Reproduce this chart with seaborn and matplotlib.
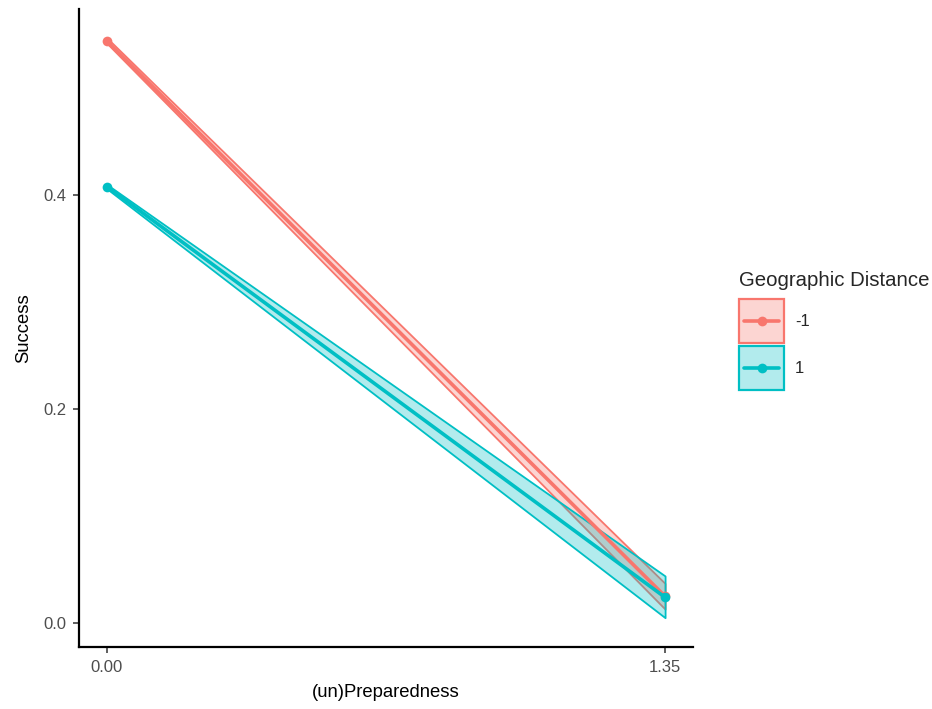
import matplotlib
matplotlib.use("Agg")
import matplotlib.pyplot as plt
import seaborn as sns
import pandas as pd
from matplotlib.patches import Rectangle
from matplotlib.lines import Line2D
from matplotlib.legend_handler import HandlerBase

# ---- data ----
x_vals = [0.0, 1.35]
groups = ["-1", "1"]
pred_neg = [0.544, 0.025]
lo_neg = [0.542, 0.013]
hi_neg = [0.547, 0.037]
pred_pos = [0.408, 0.024]
lo_pos = [0.406, 0.005]
hi_pos = [0.410, 0.044]
x_ticks = [0.0, 1.35]
x_ticklabels = ["0.00", "1.35"]
y_ticks = [0.0, 0.2, 0.4]
y_ticklabels = ["0.0", "0.2", "0.4"]
colors = ["#F8766D", "#00BFC4"]

sns.set_style("ticks")
plt.rcParams["font.family"] = ["Liberation Sans", "DejaVu Sans"]

fig = plt.figure(figsize=(9.32, 7.09), dpi=100)
ax = fig.add_axes([79 / 932, 1 - 647 / 709, (693 - 79) / 932, (647 - 9) / 709])

series = [(groups[0], pred_neg, lo_neg, hi_neg, colors[0]),
          (groups[1], pred_pos, lo_pos, hi_pos, colors[1])]
for g, pred, lo, hi, c in series:
    ax.fill_between(x_vals, lo, hi, facecolor=matplotlib.colors.to_rgba(c, 0.3),
                    edgecolor=c, linewidth=1.3)
    df = pd.DataFrame({"x": x_vals, "y": pred, "g": [g] * len(x_vals)})
    sns.lineplot(data=df, x="x", y="y", color=c, linewidth=2.6, marker="o",
                 markersize=7, markeredgewidth=0, ax=ax, legend=False)

ax.set_xlim(-0.0675, 1.4175)
ax.set_ylim(-0.0224, 0.574)
ax.set_xticks(x_ticks)
ax.set_xticklabels(x_ticklabels)
ax.set_yticks(y_ticks)
ax.set_yticklabels(y_ticklabels)
ax.tick_params(axis="both", colors="#333333", labelcolor="#4D4D4D",
               labelsize=12, length=4, width=1.1, pad=5)
for s in ["top", "right"]:
    ax.spines[s].set_visible(False)
for s in ["left", "bottom"]:
    ax.spines[s].set_color("black")
    ax.spines[s].set_linewidth(1.6)
ax.set_xlabel("(un)Preparedness", fontsize=13.3, color="black", labelpad=7)
ax.set_ylabel("Success", fontsize=13.3, color="black", labelpad=8)


class KeyHandler(HandlerBase):
    def __init__(self, c):
        super().__init__()
        self.c = c

    def create_artists(self, legend, orig_handle, xdescent, ydescent,
                       width, height, fontsize, trans):
        c = self.c
        rect = Rectangle((-xdescent, -ydescent), width, height,
                         facecolor=matplotlib.colors.to_rgba(c, 0.3),
                         edgecolor=c, linewidth=1.6, transform=trans)
        yc = -ydescent + height / 2
        line = Line2D([-xdescent + 0.12 * width, -xdescent + 0.88 * width], [yc, yc],
                      color=c, linewidth=2.6, transform=trans)
        dot = Line2D([-xdescent + 0.5 * width], [yc], color=c, marker="o",
                     markersize=7, markeredgewidth=0, linestyle="none",
                     transform=trans)
        return [rect, line, dot]


proxies = [Line2D([], []) for _ in colors]
hmap = {p: KeyHandler(c) for p, c in zip(proxies, colors)}
leg = fig.legend(proxies, groups, loc="upper left", handler_map=hmap,
                 bbox_to_anchor=(724 / 932, 1 - 256 / 709), frameon=False,
                 title="Geographic Distance", title_fontsize=14.7, fontsize=12,
                 handlelength=2.7, handleheight=3.68, labelspacing=0.18,
                 handletextpad=0.66, alignment="left", borderpad=0.4)
leg._legend_box.sep = 6.5

fig.savefig("out.png", dpi=100)
